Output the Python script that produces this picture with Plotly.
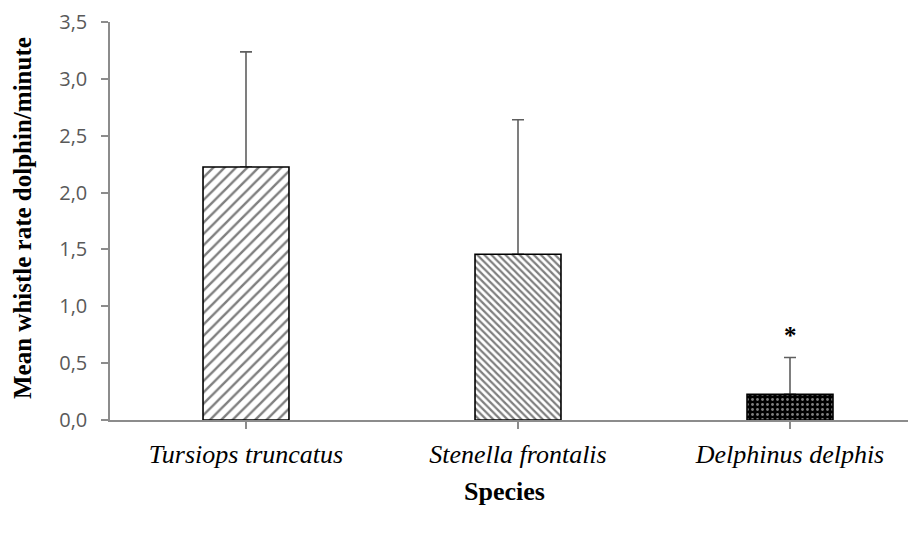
import plotly.graph_objects as go

species = ["Tursiops truncatus", "Stenella frontalis", "Delphinus delphis"]
means = [2.225, 1.458, 0.225]
err_up = [1.012, 1.182, 0.324]
y_ticks = [0.0, 0.5, 1.0, 1.5, 2.0, 2.5, 3.0, 3.5]
y_title = "Mean whistle rate dolphin/minute"
x_title = "Species"
marks = ["", "", "*"]

xs = [0, 1, 2]
cat_labels = ["<i>%s</i>" % s for s in species]

# the page body has an 8px default margin; plot area targets screen x 110.., y 20..420
OFF = 8
PW = 916 - (110 - OFF)  # plot width in px
CAT_PX = 272

fig = go.Figure()

# error bar carrier (transparent bars below the patterned bars)
fig.add_trace(go.Bar(
    x=xs, y=means, width=0.316,
    marker=dict(color="rgba(0,0,0,0)", line=dict(width=0)),
    error_y=dict(type="data", symmetric=False, array=err_up, arrayminus=[0, 0, 0],
                 color="#5f5f5f", thickness=1.6, width=6),
    showlegend=False, hoverinfo="skip",
))

patterns = [
    dict(shape="/", size=8, solidity=0.3, fgcolor="black", bgcolor="white", fillmode="overlay"),
    dict(shape="\\", size=5, solidity=0.45, fgcolor="black", bgcolor="white", fillmode="overlay"),
    dict(shape=".", size=5, solidity=0.25, fgcolor="white", bgcolor="black", fillmode="overlay"),
]
for i in range(3):
    fig.add_trace(go.Bar(
        x=[xs[i]], y=[means[i]], width=0.316,
        marker=dict(color="white" if i < 2 else "black",
                    line=dict(color="black", width=1.6),
                    pattern=patterns[i]),
        showlegend=False,
    ))

for i in range(3):
    if marks[i]:
        fig.add_annotation(x=xs[i], y=means[i] + err_up[i], text="<b>%s</b>" % marks[i],
                           showarrow=False, yanchor="bottom", yshift=7,
                           font=dict(family="Liberation Serif", size=25, color="black"))

fig.add_annotation(xref="paper", yref="paper", x=(22 - 110) / PW, y=(420 - 217) / 400,
                   text="<b>%s</b>" % y_title, textangle=-90, showarrow=False,
                   xanchor="center", yanchor="middle",
                   font=dict(family="Liberation Serif", size=25, color="black"))
fig.add_annotation(xref="paper", yref="paper", x=(504 - 110) / PW, y=(420 - 492) / 400,
                   text="<b>%s</b>" % x_title, showarrow=False,
                   xanchor="center", yanchor="middle",
                   font=dict(family="Liberation Serif", size=26, color="black"))

fig.update_layout(
    width=916, height=534,
    margin=dict(l=110 - OFF, r=0, t=20 - OFF, b=534 - (420 - OFF)),
    paper_bgcolor="white", plot_bgcolor="white",
    barmode="overlay",
    separators=",.",
    xaxis=dict(
        range=[-0.5, -0.5 + PW / CAT_PX], tickmode="array", tickvals=xs, ticktext=cat_labels,
        tickson="boundaries", ticks="outside", ticklen=7, tickcolor="#8c8c8c", tickwidth=1.5,
        showline=True, linecolor="#8c8c8c", linewidth=1.5, showgrid=False, zeroline=False,
        tickfont=dict(family="Liberation Serif", size=26, color="black"),
        ticklabelstandoff=3, ticklabeloverflow="allow",
    ),
    yaxis=dict(
        range=[0, 3.5], tickmode="array", tickvals=y_ticks, tickformat=".1f",
        ticks="outside", ticklen=7, tickcolor="#8c8c8c", tickwidth=1.5,
        showline=True, linecolor="#8c8c8c", linewidth=1.5, showgrid=False, zeroline=False,
        tickfont=dict(family="Open Sans", size=20, color="#595959"),
        ticklabelstandoff=10, ticklabeloverflow="allow",
    ),
)

fig.write_html("out.html")
